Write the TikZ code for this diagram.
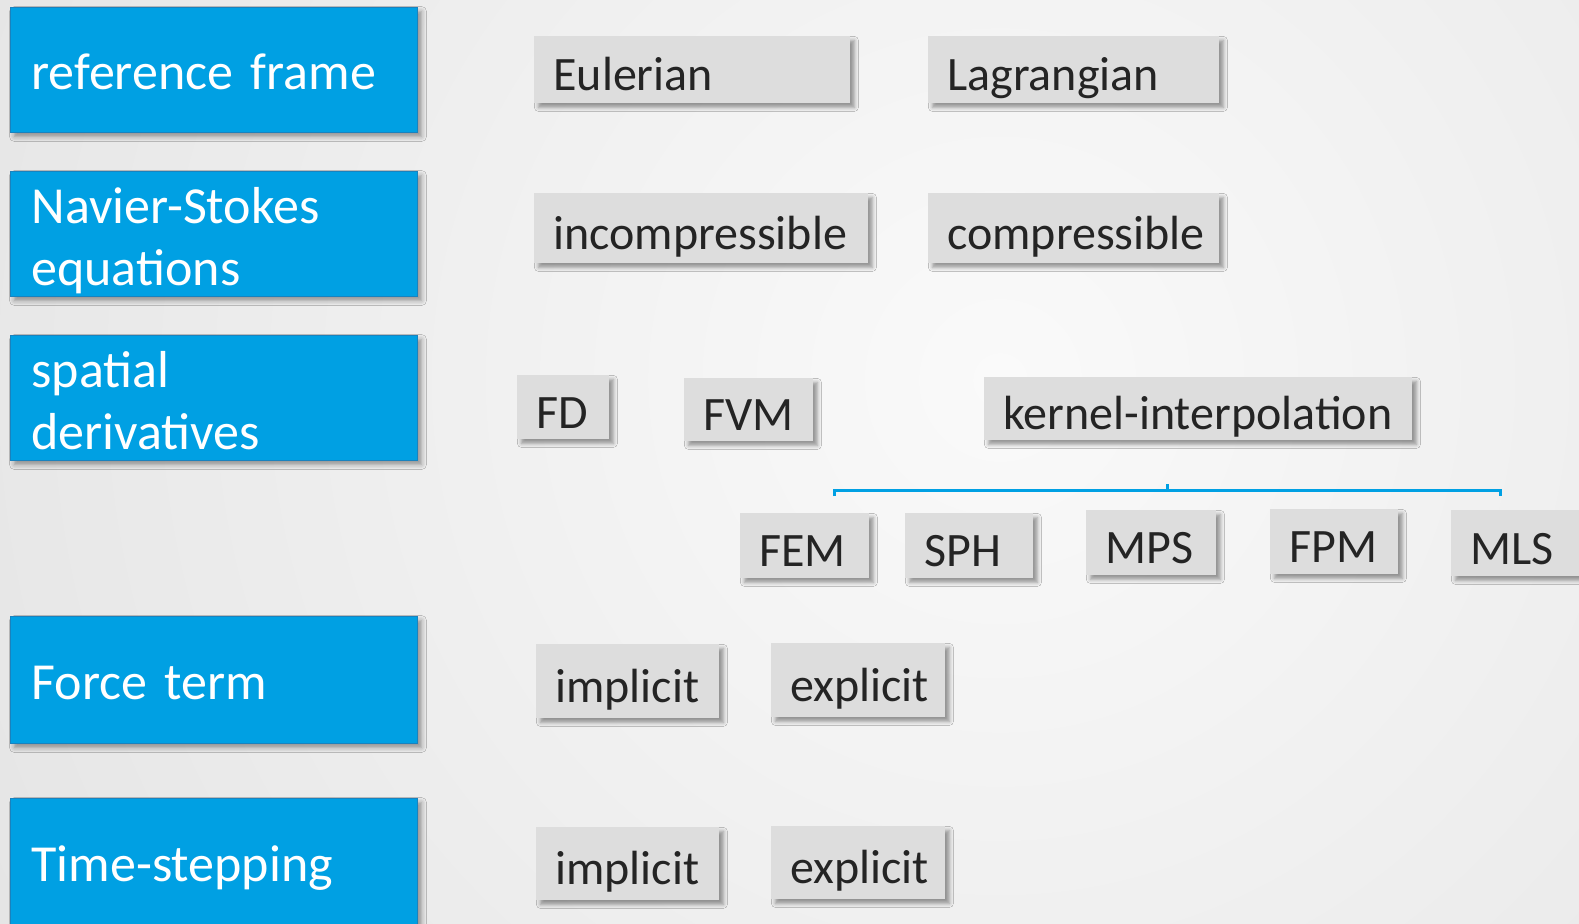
\documentclass[tikz,border=0pt]{standalone}
\usepackage{fontspec}
\setmainfont{Carlito}[WordSpace=0.75]
\usetikzlibrary{shadows.blur}
\definecolor{cblue}{RGB}{0,160,227}
\definecolor{cblueedge}{RGB}{25,130,190}
\definecolor{gbox}{RGB}{221,221,221}
\definecolor{gtext}{RGB}{36,36,36}
\definecolor{bgin}{RGB}{250,250,250}
\definecolor{bgout}{RGB}{226,226,226}
\begin{document}
\begin{tikzpicture}[x=0.5pt,y=-0.5pt,
  catbox/.style={anchor=north west, draw=cblueedge, line width=0.5pt, fill=cblue,
    text=white, font=\fontsize{26}{31.25}\selectfont, inner xsep=10.5pt, inner ysep=0pt,
    text width=182.5pt, align=left, minimum height=62.5pt, text depth=0pt, text height=19pt,
    blur shadow={shadow xshift=2pt, shadow yshift=-2pt, shadow blur radius=2.5pt, shadow opacity=40}},
  optbox/.style={anchor=north west, fill=gbox, text=gtext, font=\fontsize{24}{28}\selectfont,
    inner xsep=9.5pt, inner ysep=0pt, align=left, text depth=0pt, text height=21pt,
    text width=#1,
    blur shadow={shadow xshift=2pt, shadow yshift=-2pt, shadow blur radius=2pt, shadow opacity=40}},
  bracketline/.style={draw=cblue, line width=1.5pt}]
\useasboundingbox (0,0) rectangle (1579,923);
\clip (0,0) rectangle (1579,923);
\shade[inner color=bgin, outer color=bgout] (1000,380) circle (1300);
% category boxes
\node[catbox] (rf) at (10,7) {reference frame};
\node[catbox, text height=51.5pt] (ns) at (10,171) {\begin{tabular}[b]{@{}l@{}}Navier-Stokes\\equations\end{tabular}};
\node[catbox, text height=51.5pt] (sd) at (10,335) {\begin{tabular}[b]{@{}l@{}}spatial\\derivatives\end{tabular}};
\node[catbox, minimum height=63.5pt] (ft) at (10,616) {Force term};
\node[catbox, minimum height=63.5pt] (ts) at (10,798) {Time-stepping};
% option boxes
\node[optbox=139pt, minimum height=33.5pt] (eul) at (534,36) {Eulerian};
\node[optbox=126.5pt, minimum height=33.5pt] (lag) at (928,36) {Lagrangian};
\node[optbox=148pt, minimum height=35pt] (inc) at (534,193) {incompressible};
\node[optbox=126.5pt, minimum height=35pt] (comp) at (928,193) {compressible};
\node[optbox=27pt, minimum height=32pt] (fd) at (517,375) {FD};
\node[optbox=45.5pt, minimum height=31.5pt] (fvm) at (684,378) {FVM};
\node[optbox=195pt, minimum height=31.5pt] (kern) at (984,377) {kernel-interpolation};
\node[optbox=45.5pt, minimum height=32.5pt] (fem) at (740,513) {FEM};
\node[optbox=45pt, minimum height=32.5pt] (sph) at (905,513) {SPH};
\node[optbox=46pt, minimum height=32.5pt] (mps) at (1086,510) {MPS};
\node[optbox=45pt, minimum height=32.5pt] (fpm) at (1270,509) {FPM};
\node[optbox=51pt, minimum height=33pt] (mls) at (1451,510) {MLS};
\node[optbox=72.5pt, minimum height=37pt] (fimp) at (536,644) {implicit};
\node[optbox=68pt, minimum height=37pt] (fexp) at (771,643) {explicit};
\node[optbox=72.5pt, minimum height=36.5pt] (timp) at (536,827) {implicit};
\node[optbox=68pt, minimum height=36.5pt] (texp) at (771,826) {explicit};
% bracket
\coordinate (bl) at (834,496);
\coordinate (blc) at (834,490);
\coordinate (brc) at (1500,490);
\coordinate (br) at (1500,496);
\coordinate (bm) at (1167,490);
\coordinate (bt) at (1167,484);
\draw[bracketline] (bl) -- (blc) -- (brc) -- (br);
\draw[bracketline] (bm) -- (bt);
\end{tikzpicture}
\end{document}
